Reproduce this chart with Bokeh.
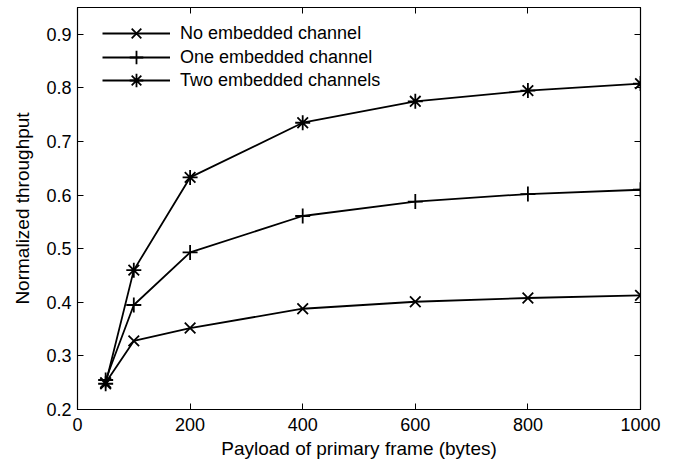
from bokeh.plotting import figure
from bokeh.models import Range1d, LinearAxis, FixedTicker, Legend, LegendItem
from bokeh.embed import file_html
from bokeh.resources import INLINE

payload = [50, 100, 200, 400, 600, 800, 1000]
no_embedded = [0.250, 0.328, 0.352, 0.388, 0.401, 0.408, 0.413]
one_embedded = [0.255, 0.395, 0.493, 0.561, 0.588, 0.602, 0.610]
two_embedded = [0.248, 0.460, 0.633, 0.735, 0.775, 0.795, 0.808]
x_ticks = [0, 200, 400, 600, 800, 1000]
y_ticks = [0.2, 0.3, 0.4, 0.5, 0.6, 0.7, 0.8, 0.9]

FONT = "Liberation Sans"

p = figure(width=676, height=465, output_backend="svg", toolbar_location=None,
           x_range=Range1d(0, 1000), y_range=Range1d(0.2, 0.95),
           min_border_left=77, min_border_right=36, min_border_top=7, min_border_bottom=56)
p.xgrid.visible = False
p.ygrid.visible = False
p.outline_line_color = "black"
p.outline_line_width = 1.2
p.background_fill_color = "white"
p.border_fill_color = "white"

def style_axis(ax, ticks, labels=True):
    ax.ticker = FixedTicker(ticks=ticks)
    ax.major_tick_in = 6
    ax.major_tick_out = 0
    ax.minor_tick_in = 0
    ax.minor_tick_out = 0
    ax.axis_line_color = "black"
    ax.major_tick_line_color = "black"
    ax.major_label_text_font = FONT
    ax.major_label_text_font_size = "18px"
    ax.major_label_text_color = "black"
    ax.axis_label_text_font = FONT
    ax.axis_label_text_font_size = "19px"
    ax.axis_label_text_font_style = "normal"
    ax.axis_label_text_color = "black"
    if not labels:
        ax.major_label_overrides = {t: "" for t in ticks}
        ax.major_label_standoff = 0

style_axis(p.xaxis[0], x_ticks)
style_axis(p.yaxis[0], y_ticks)
p.xaxis[0].axis_label = "Payload of primary frame (bytes)"
p.yaxis[0].axis_label = "Normalized throughput"
p.xaxis[0].major_label_standoff = 8
p.yaxis[0].major_label_standoff = 6
p.xaxis[0].axis_label_standoff = 4
p.yaxis[0].axis_label_standoff = 10

top = LinearAxis()
style_axis(top, x_ticks, labels=False)
p.add_layout(top, "above")
right = LinearAxis()
style_axis(right, y_ticks, labels=False)
p.add_layout(right, "right")

series = [("No embedded channel", no_embedded, "x"),
          ("One embedded channel", one_embedded, "cross"),
          ("Two embedded channels", two_embedded, "asterisk")]
legend_bottoms = [359, 335, 312]
for (name, ys, mk), vy in zip(series, legend_bottoms):
    ln = p.line(payload, ys, line_color="black", line_width=1.8)
    sc = p.scatter(payload, ys, marker=mk, size=15, line_color="black",
                   line_width=1.8, fill_color=None)
    lg = Legend(items=[LegendItem(label=name, renderers=[ln, sc])], location=(25, vy))
    lg.border_line_color = None
    lg.background_fill_alpha = 0
    lg.label_text_font = FONT
    lg.label_text_font_size = "18px"
    lg.label_text_color = "black"
    lg.glyph_width = 68
    lg.glyph_height = 34
    lg.label_height = 20
    lg.label_standoff = 10
    lg.spacing = 0
    lg.margin = 0
    lg.padding = 0
    p.add_layout(lg)

open("out.html", "w").write(file_html(p, INLINE))
